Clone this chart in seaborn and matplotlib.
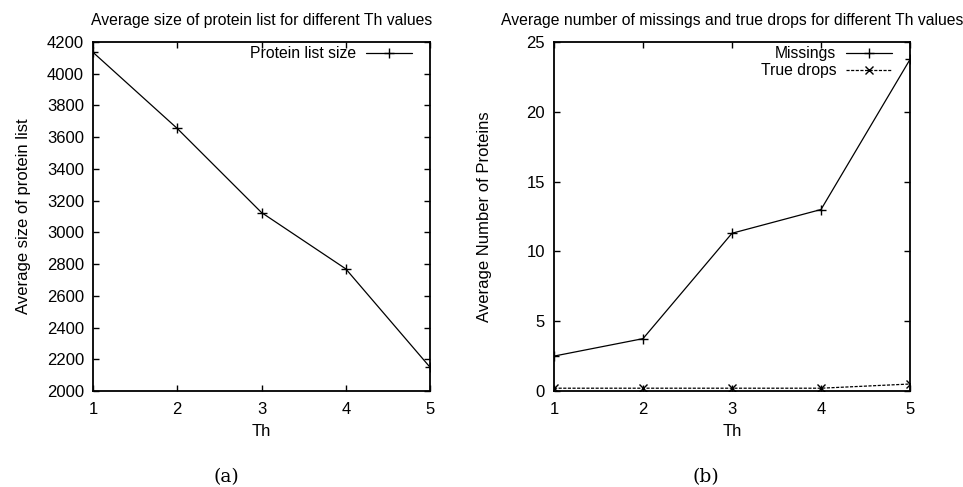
import matplotlib
matplotlib.use("Agg")
import matplotlib.pyplot as plt
import seaborn as sns
import numpy as np

th = [1, 2, 3, 4, 5]
protein_list_size = [4135, 3655, 3125, 2770, 2150]
missings = [2.5, 3.75, 11.3, 13.0, 23.75]
true_drops = [0.2, 0.2, 0.2, 0.2, 0.5]

sns.set_theme(style="white")
plt.rcParams['font.family'] = ['Liberation Sans', 'DejaVu Sans']
plt.rcParams['text.color'] = 'black'
plt.rcParams['axes.labelcolor'] = 'black'
plt.rcParams['xtick.color'] = 'black'
plt.rcParams['ytick.color'] = 'black'
TICK_FS = 12
LAB_FS = 12
TITLE_FS = 11.3
LEG_FS = 11.3

fig = plt.figure(figsize=(9.63, 4.87), dpi=100)
ax1 = fig.add_axes([93/963, 1-391/487, (430-93)/963, (391-42)/487])
ax2 = fig.add_axes([554/963, 1-391/487, (910-554)/963, (391-42)/487])

sns.lineplot(x=th, y=protein_list_size, ax=ax1, color='black', lw=0.9,
             marker='+', markersize=7.5, mew=1.0, mec='black',
             label='Protein list size')
sns.lineplot(x=th, y=missings, ax=ax2, color='black', lw=0.9,
             marker='+', markersize=7.5, mew=1.0, mec='black', label='Missings')
sns.lineplot(x=th, y=true_drops, ax=ax2, color='black', lw=0.9,
             marker='x', markersize=6, mew=1.0, mec='black', label='True drops')
ax2.lines[-1].set_linestyle((0, (2.5, 1.2)))

for ax, w in ((ax1, 337), (ax2, 356)):
    ax.set_xlim(1, 5)
    ax.set_xticks(th)
    for s in ax.spines.values():
        s.set_color('black')
        s.set_linewidth(1.3)
    ax.tick_params(direction='in', length=4, width=1, colors='black',
                   top=True, right=True, bottom=True, left=True,
                   labelsize=TICK_FS)
    ax.tick_params(axis='x', pad=8)
    ax.tick_params(axis='y', pad=6.5)
    ax.set_xlabel('Th', fontsize=LAB_FS, labelpad=5, color='black')
    handles, labels = ax.get_legend_handles_labels()
    for h in handles:
        h.set_markeredgecolor('black')
    leg = ax.legend(handles, labels, loc='upper right', frameon=False,
                    markerfirst=False, fontsize=LEG_FS, handlelength=2.9,
                    borderaxespad=0, borderpad=0,
                    bbox_to_anchor=(1 - 18/w, 1 - 4/349),
                    labelspacing=0.15, handletextpad=0.65)
    for t in leg.get_texts():
        t.set_color('black')

ax1.set_ylim(2000, 4200)
ax1.set_yticks(np.arange(2000, 4201, 200))
ax2.set_ylim(0, 25)
ax2.set_yticks([0, 5, 10, 15, 20, 25])

ax1.set_ylabel('Average size of protein list', fontsize=LAB_FS, labelpad=11, color='black')
ax2.set_ylabel('Average Number of Proteins', fontsize=LAB_FS, labelpad=25, color='black')
ax1.set_title('Average size of protein list for different Th values',
              fontsize=TITLE_FS, pad=12, color='black')
ax2.set_title('Average number of missings and true drops for different Th values',
              fontsize=TITLE_FS, pad=12, color='black')

fig.text(226/963, 1-477/487, '(a)', ha='center', va='center', fontsize=13.5,
         family=['DejaVu Serif'], color='black')
fig.text(706/963, 1-477/487, '(b)', ha='center', va='center', fontsize=13.5,
         family=['DejaVu Serif'], color='black')

fig.savefig('out.png', dpi=100)
